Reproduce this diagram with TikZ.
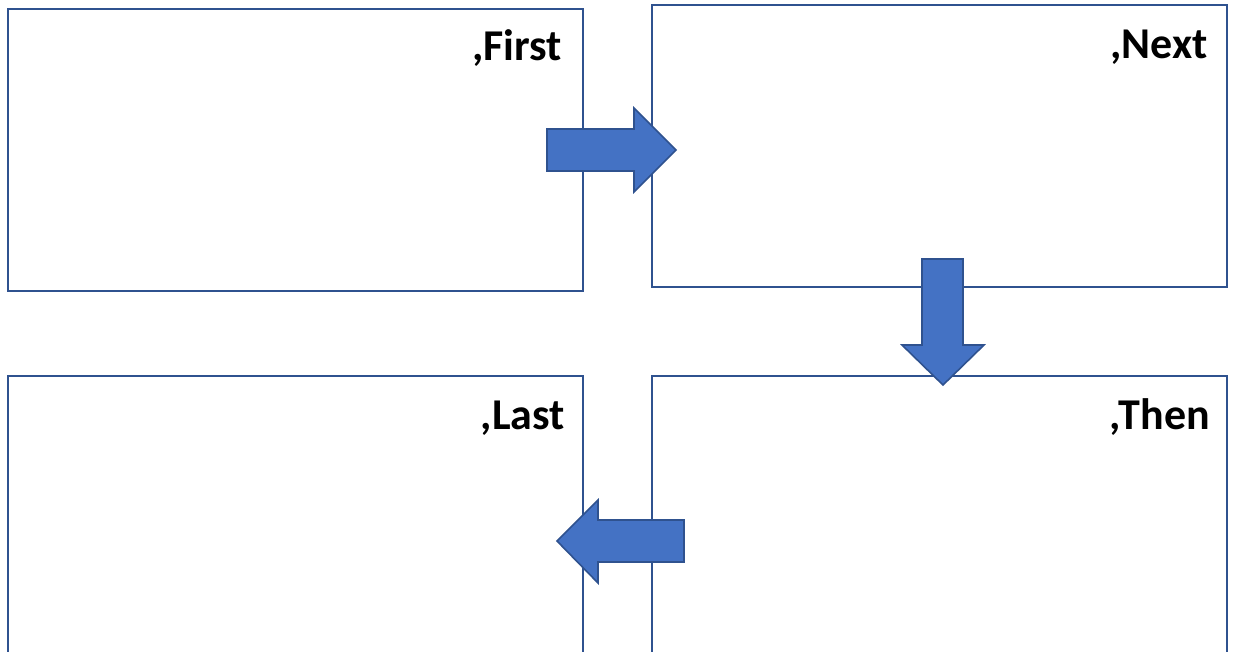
\documentclass[tikz,border=0pt]{standalone}
\usepackage{fontspec}
\setmainfont{Carlito}
\usetikzlibrary{positioning}

\definecolor{boxline}{RGB}{47,82,143}
\definecolor{arrowfill}{RGB}{68,114,196}

\tikzset{
  stagebox/.style={draw=boxline, line width=2.2pt, minimum width=575pt, minimum height=282pt, inner sep=0pt},
  stagelabel/.style={anchor=base east, inner sep=0pt, font=\fontsize{44}{52}\selectfont\bfseries},
  blockarrow/.style={draw=boxline, line width=1.6pt, fill=arrowfill, line join=miter}
}

\begin{document}
\begin{tikzpicture}[x=1pt, y=-1pt]
	\useasboundingbox (0,0) rectangle (1235,651);

	\node [stagebox] (first) at (295.5, 150) {};
	\node [stagebox] (next)  at (939.5, 146) {};
	\node [stagebox] (last)  at (295.5, 517) {};
	\node [stagebox] (then)  at (939.5, 517) {};

	\node [stagelabel] (firstlabel) at (562, 60)   {,First};
	\node [stagelabel] (nextlabel)  at (1208, 58)  {,Next};
	\node [stagelabel] (lastlabel)  at (565, 429)  {,Last};
	\node [stagelabel] (thenlabel)  at (1210, 429) {,Then};

	% first -> next
	\draw [blockarrow] (547,129) -- (634,129) -- (634,108) -- (676,150) -- (634,192) -- (634,171) -- (547,171) -- cycle;
	% next -> then
	\draw [blockarrow] (922,259) -- (963,259) -- (963,345) -- (984,345) -- (943,385) -- (902,345) -- (922,345) -- cycle;
	% then -> last
	\draw [blockarrow] (684,520) -- (598,520) -- (598,500) -- (557,541) -- (598,583) -- (598,562) -- (684,562) -- cycle;
\end{tikzpicture}
\end{document}
